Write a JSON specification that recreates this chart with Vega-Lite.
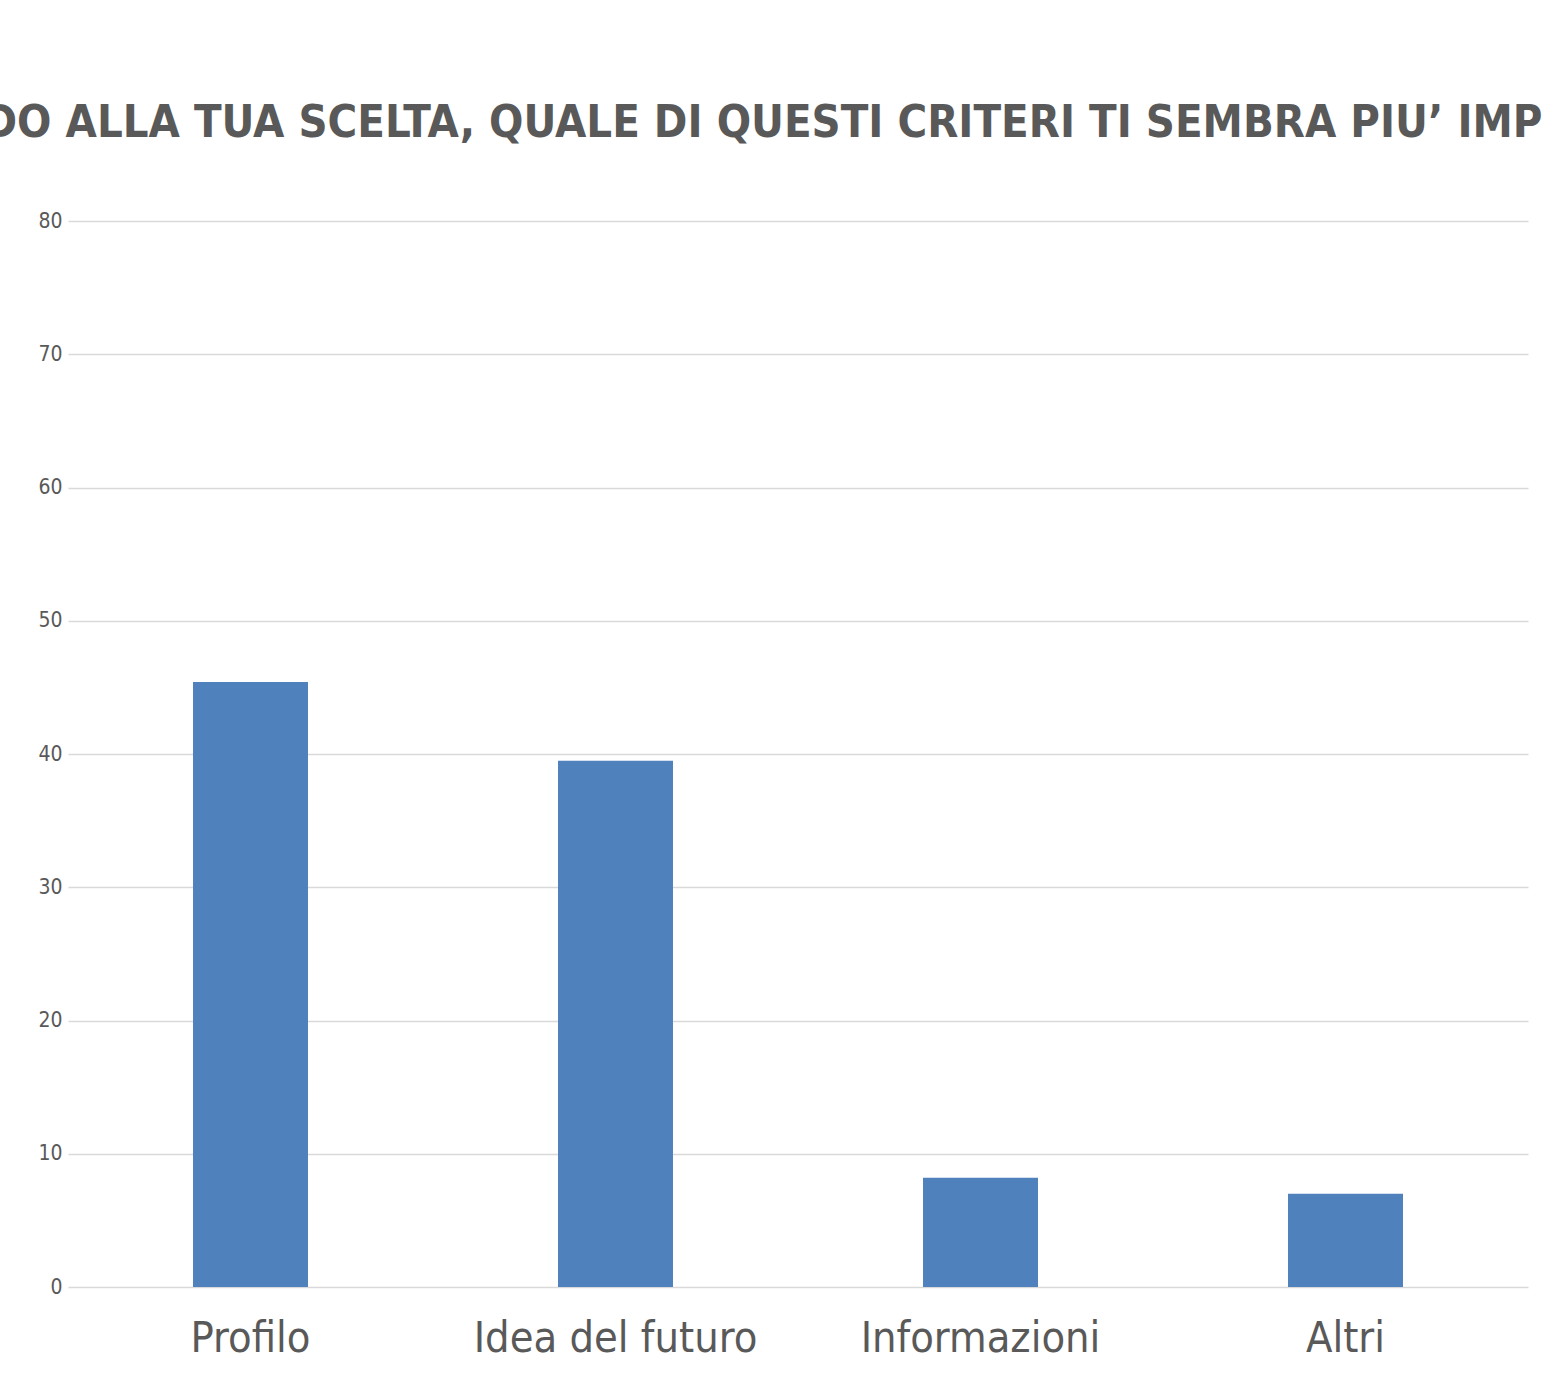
{
  "$schema": "https://vega.github.io/schema/vega-lite/v6.json",
  "autosize": {"type": "none"},
  "padding": {"left": 68, "top": 221, "right": 14, "bottom": 104},
  "width": 1460,
  "height": 1066,
  "background": "white",
  "title": {
    "text": "PENSANDO ALLA TUA SCELTA, QUALE DI QUESTI CRITERI TI SEMBRA PIU’ IMPORTANTE?",
    "font": "DejaVu Sans Condensed, sans-serif",
    "fontSize": 45,
    "fontWeight": "bold",
    "color": "#595959",
    "anchor": "middle",
    "baseline": "alphabetic",
    "offset": 28,
    "dx": -12
  },
  "data": {
    "values": [
      {"criterio": "Profilo", "valore": 45.4},
      {"criterio": "Idea del futuro", "valore": 39.5},
      {"criterio": "Informazioni", "valore": 8.2},
      {"criterio": "Altri", "valore": 7.0}
    ]
  },
  "mark": {"type": "bar", "color": "#4f81bd"},
  "encoding": {
    "x": {
      "field": "criterio", "type": "nominal", "sort": null,
      "scale": {"paddingInner": 0.685, "paddingOuter": 0.3425},
      "axis": {
        "title": null, "labelAngle": 0, "ticks": false, "domain": false,
        "labelFont": "DejaVu Sans Condensed, sans-serif", "labelLimit": 0,
        "labelFontSize": 43, "labelColor": "#595959", "labelPadding": 30
      }
    },
    "y": {
      "field": "valore", "type": "quantitative",
      "scale": {"domain": [0, 80]},
      "axis": {
        "title": null, "values": [0,10,20,30,40,50,60,70,80],
        "ticks": false, "domain": false,
        "grid": true, "gridColor": "#d9d9d9", "gridWidth": 1.5,
        "labelFont": "DejaVu Sans Condensed, sans-serif",
        "labelFontSize": 21, "labelColor": "#595959", "labelPadding": 6
      }
    }
  },
  "config": {"view": {"stroke": null}}
}
